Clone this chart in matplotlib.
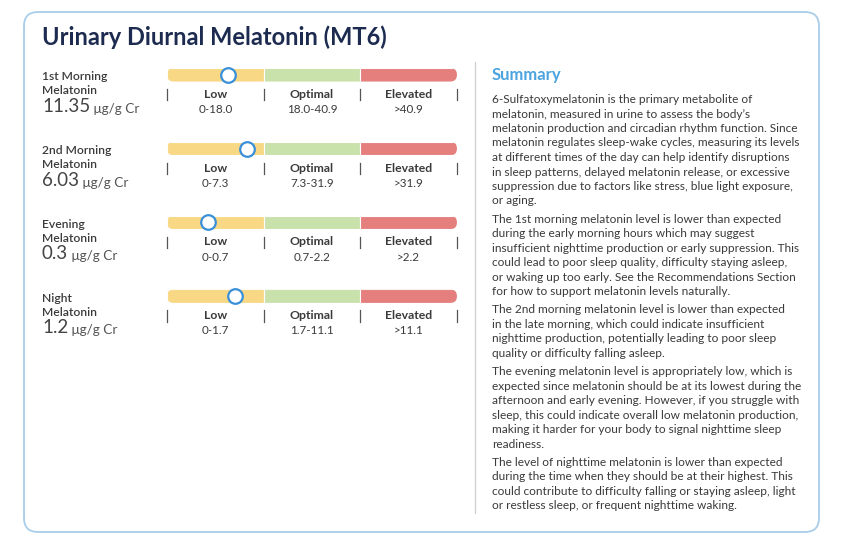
import numpy as np
import matplotlib
matplotlib.use("Agg")
import matplotlib.pyplot as plt
from matplotlib.patches import FancyBboxPatch

plt.rcParams['font.family'] = ['Lato', 'DejaVu Sans']

# Datos del gráfico
titulo = "Urinary Diurnal Melatonin (MT6)"
etiquetas = [("1st Morning", "Melatonin"), ("2nd Morning", "Melatonin"),
             ("Evening", "Melatonin"), ("Night", "Melatonin")]
valores = [11.35, 6.03, 0.3, 1.2]
valores_txt = ["11.35", "6.03", "0.3", "1.2"]
unidad = "μg/g Cr"
limite_bajo = [18.0, 7.3, 0.7, 1.7]
limite_alto = [40.9, 31.9, 2.2, 11.1]
categorias = ["Low", "Optimal", "Elevated"]
colores = ["#f8d885", "#c9e1ab", "#e47f7d"]

resumen = [
    ["6-Sulfatoxymelatonin is the primary metabolite of",
     "melatonin, measured in urine to assess the body\u2019s",
     "melatonin production and circadian rhythm function. Since",
     "melatonin regulates sleep-wake cycles, measuring its levels",
     "at different times of the day can help identify disruptions",
     "in sleep patterns, delayed melatonin release, or excessive",
     "suppression due to factors like stress, blue light exposure,",
     "or aging."],
    ["The 1st morning melatonin level is lower than expected",
     "during the early morning hours which may suggest",
     "insufficient nighttime production or early suppression. This",
     "could lead to poor sleep quality, difficulty staying asleep,",
     "or waking up too early. See the Recommendations Section",
     "for how to support melatonin levels naturally."],
    ["The 2nd morning melatonin level is lower than expected",
     "in the late morning, which could indicate insufficient",
     "nighttime production, potentially leading to poor sleep",
     "quality or difficulty falling asleep."],
    ["The evening melatonin level is appropriately low, which is",
     "expected since melatonin should be at its lowest during the",
     "afternoon and early evening. However, if you struggle with",
     "sleep, this could indicate overall low melatonin production,",
     "making it harder for your body to signal nighttime sleep",
     "readiness."],
    ["The level of nighttime melatonin is lower than expected",
     "during the time when they should be at their highest. This",
     "could contribute to difficulty falling or staying asleep, light",
     "or restless sleep, or frequent nighttime waking."],
]

W, H = 846, 547
fig = plt.figure(figsize=(W / 100, H / 100), dpi=100)
fig.patch.set_facecolor("white")

# Ejes base en píxeles
base = fig.add_axes([0, 0, 1, 1])
base.set_xlim(0, W)
base.set_ylim(H, 0)
base.axis("off")

tarjeta = FancyBboxPatch((24, 12), 795, 520, boxstyle="round,pad=0,rounding_size=14",
                         facecolor="white", edgecolor="#a9cde9", linewidth=1.3)
base.add_patch(tarjeta)
base.plot([475, 475], [62, 513], color="#cfcfcf", linewidth=0.9)

base.text(42, 37, titulo, fontsize=17, fontweight="bold", color="#1c2b4f", va="center", ha="left")

# Filas de barras
bar_x, bar_w, bar_h = 167, 290, 13.5
fila_y = 74.8
paso = 73.8

for i in range(len(valores)):
    yc = fila_y + i * paso
    # etiquetas de la izquierda
    base.text(42, yc + 2, etiquetas[i][0], fontsize=8.7, fontweight="semibold", color="#3a3a3a", va="center")
    base.text(42, yc + 16, etiquetas[i][1], fontsize=8.7, fontweight="semibold", color="#3a3a3a", va="center")
    t = base.text(42, yc + 37, valores_txt[i], fontsize=13.5, color="#444444", va="baseline")
    base.annotate(" " + unidad, xycoords=t, xy=(1, 0), va="bottom", ha="left",
                  fontsize=9.8, color="#555555")

    ax = fig.add_axes([bar_x / W, 1 - (yc + bar_h / 2) / H, bar_w / W, bar_h / H])
    ax.set_xlim(0, 3)
    ax.set_ylim(-0.5, 0.5)
    ax.axis("off")
    barras = ax.barh([0, 0, 0], [1, 1, 1], left=[0, 1, 2], height=1, color=colores,
                     edgecolor="white", linewidth=0.8)
    seg_px = bar_w / 3
    clip = FancyBboxPatch((0, -0.5), 3, 1,
                          boxstyle="round,pad=0,rounding_size=%f" % (bar_h / 2 / seg_px),
                          mutation_aspect=seg_px / bar_h, transform=ax.transData,
                          facecolor="none", edgecolor="none")
    ax.add_patch(clip)
    for b in barras:
        b.set_clip_path(clip)

    # posición del marcador a partir del valor
    pos = np.interp(valores[i], [0, limite_bajo[i], limite_alto[i], limite_alto[i] * 1.5], [0, 1, 2, 3])
    ax.plot([pos], [0], marker="o", markersize=10.5, markerfacecolor="white",
            markeredgecolor="#3a8fd9", markeredgewidth=1.6, clip_on=False, zorder=5)

    rangos = ["0-%.1f" % limite_bajo[i], "%.1f-%.1f" % (limite_bajo[i], limite_alto[i]),
              ">%.1f" % limite_alto[i]]
    for k in range(4):
        ax.plot([k, k], [-1.05, -1.9], color="#555555", linewidth=0.9, clip_on=False)
    for k in range(3):
        ax.annotate(categorias[k], xy=(k + 0.5, 0), xytext=(0, -14.0), textcoords="offset points",
                    ha="center", va="center", fontsize=8.8, fontweight="bold", color="#3a3a3a",
                    annotation_clip=False)
        ax.annotate(rangos[k], xy=(k + 0.5, 0), xytext=(0, -25.0), textcoords="offset points",
                    ha="center", va="center", fontsize=8.4, color="#3a3a3a", annotation_clip=False)

# Resumen
base.text(492, 75, "Summary", fontsize=12, fontweight="bold", color="#4ba3df", va="center")
y = 99
for parrafo in resumen:
    for linea in parrafo:
        base.text(492, y + 4, linea, fontsize=8.6, color="#3a3a3a", va="baseline")
        y += 14.5
    y += 18.2 - 14.5

fig.savefig("out.png", dpi=100, facecolor="white")
